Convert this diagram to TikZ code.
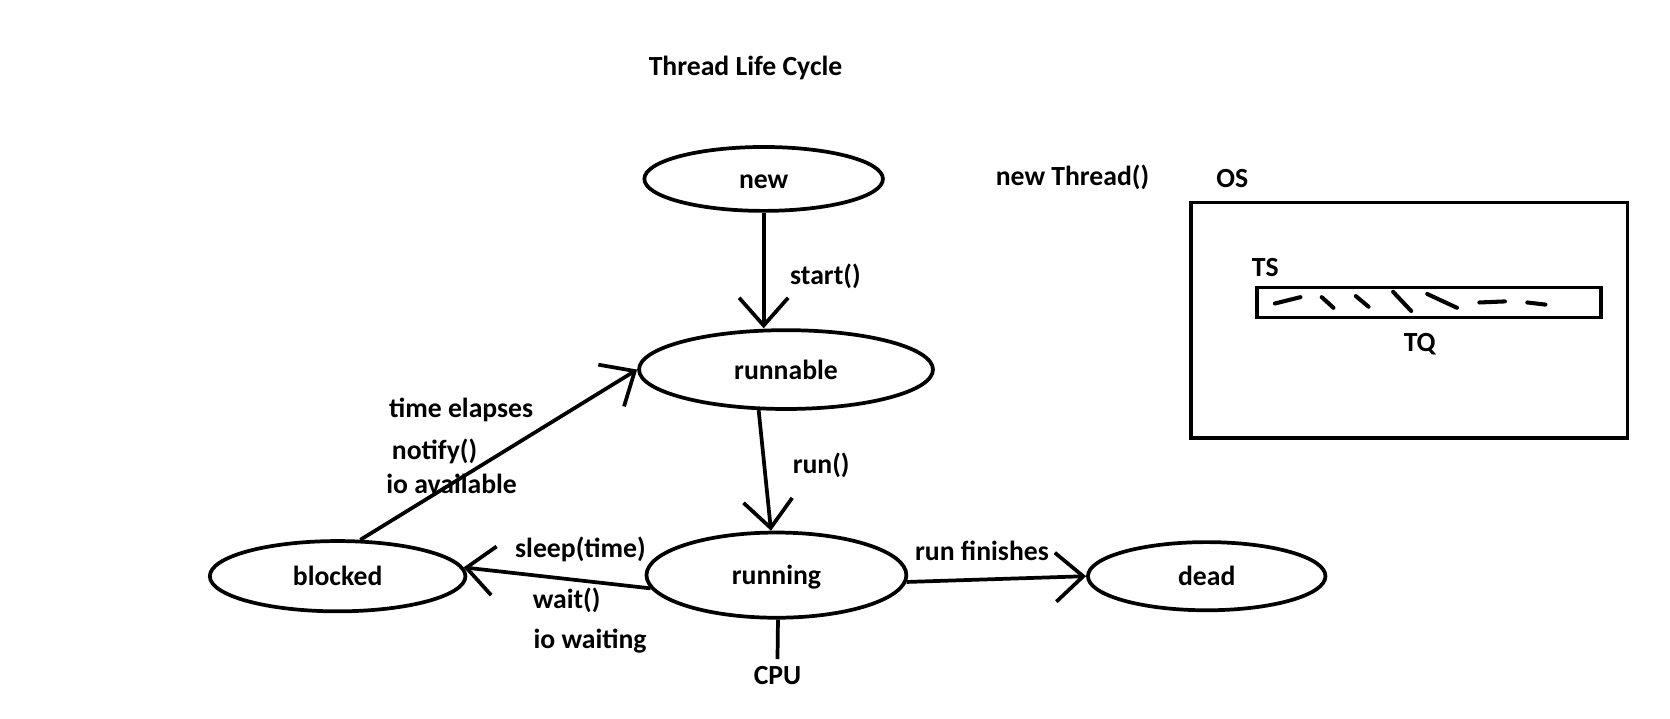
\documentclass[tikz,border=0pt]{standalone}
\usepackage{fontspec}
\setmainfont{Carlito}
\usetikzlibrary{arrows.meta,shapes.geometric}

\begin{document}
\begin{tikzpicture}[x=1pt,y=-1pt,
  font=\fontsize{26}{30}\selectfont\bfseries,
  state/.style={ellipse, draw, line width=3.5pt, inner sep=0pt, text height=21pt, text depth=3pt},
  lbl/.style={anchor=base, inner sep=0pt},
  arr/.style={line width=3.5pt, -{Straight Barb[length=26pt,width=46pt]}},
  tick/.style={line width=3.8pt, line cap=round},]
\useasboundingbox (0,0) rectangle (1568,675);

%Nodes
\node[lbl] (title) at (700,71) {Thread Life Cycle};
\node[state, minimum width=224pt, minimum height=60pt] (new) at (717,168) {new};
\node[state, minimum width=276pt, minimum height=74pt] (runnable) at (738,347) {runnable};
\node[state, minimum width=244pt, minimum height=80pt] (running) at (729,540) {running};
\node[state, minimum width=240pt, minimum height=66pt] (blocked) at (317,541) {blocked};
\node[state, minimum width=223pt, minimum height=64pt] (dead) at (1133,541) {dead};
\node[lbl, inner ysep=7pt] (cpu) at (730,643) {CPU};

%Labels
\node[lbl] (newthread) at (1007,174) {new Thread()};
\node[lbl] (start) at (775,267) {start()};
\node[lbl] (run) at (771,445) {run()};
\node[lbl] (elapses) at (433,392) {time elapses};
\node[lbl] (notify) at (408,431) {notify()};
\node[lbl] (ioavail) at (424,463) {io available};
\node[lbl] (sleep) at (545,523) {sleep(time)};
\node[lbl] (wait) at (532,571) {wait()};
\node[lbl] (iowait) at (554,609) {io waiting};
\node[lbl] (finish) at (922,526) {run finishes};

%OS box
\node[lbl] (oslbl) at (1157,176) {OS};
\node[draw, line width=3.5pt, minimum width=410pt, minimum height=221pt, inner sep=0pt] (os) at (1323,300.5) {};
\node[lbl] (ts) at (1188,260) {TS};
\node[draw, line width=3.5pt, minimum width=323pt, minimum height=28pt, inner sep=0pt] (bar) at (1341.5,284) {};
\node[lbl] (tq) at (1333,330) {TQ};
\foreach \xa/\ya/\xb/\yb in {1197/285/1221/279, 1241/279/1252/289, 1273/278/1285/288,
  1308/274/1325/292, 1340/276/1368/289, 1389/284/1413/283, 1434/284/1451/286}
  \draw[tick] (\xa,\ya) -- (\xb,\yb);

%Lines
\draw[arr] (new.south) -- (new.south |- runnable.north);
\draw[arr] (runnable.-124) -- (running.97);
\draw[arr] (blocked.58) -- (runnable.west);
\draw[arr] (running.186) -- (blocked.4);
\draw[arr] (running.-3) -- (dead.west);
\draw[line width=3.5pt] (running.-88) -- (cpu.north);

\end{tikzpicture}
\end{document}
